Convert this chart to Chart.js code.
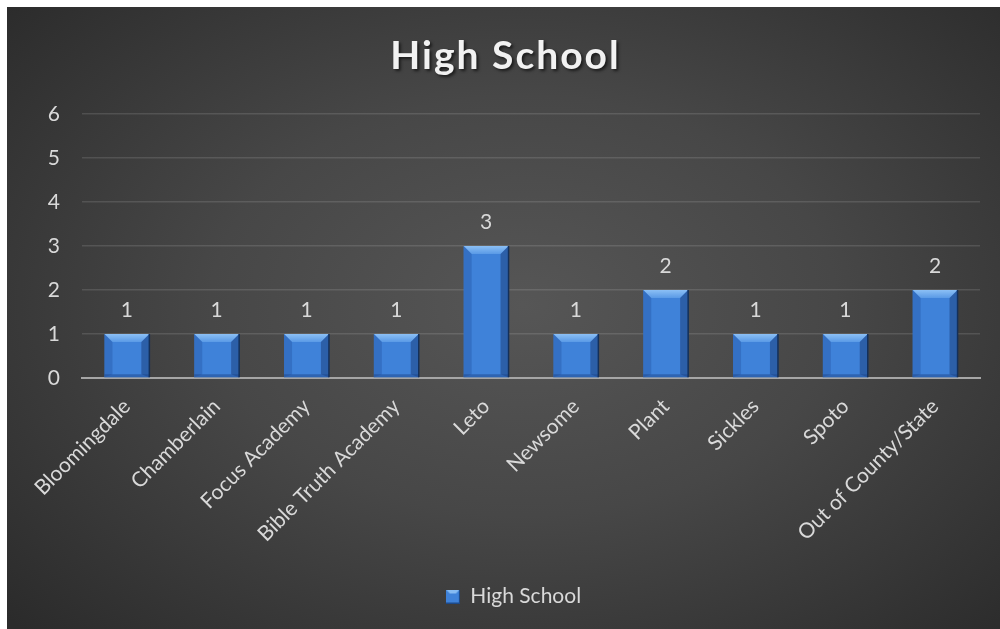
<!DOCTYPE html>
<html lang="en">
<head>
    <meta charset="UTF-8">
    <title>High School</title>
    <style>
        html, body {
            margin: 0;
            padding: 0;
            background: #ffffff;
            width: 1000px;
            height: 629px;
            overflow: hidden;
        }
        .chart-box {
            position: absolute;
            left: 7px;
            top: 7px;
            width: 993px;
            height: 622px;
            background: radial-gradient(ellipse 70% 75% at 52% 48%, #565656 0%, #474747 45%, #2b2b2b 100%);
        }
    </style>
    <script src="https://cdn.jsdelivr.net/npm/chart.js"></script>
</head>
<body>
    <div class="chart-box">
        <canvas id="okulChart" width="993" height="622"></canvas>
    </div>

    <script>
        var okullar = ['Bloomingdale', 'Chamberlain', 'Focus Academy', 'Bible Truth Academy', 'Leto',
                       'Newsome', 'Plant', 'Sickles', 'Spoto', 'Out of County/State'];
        var ogrenciSayisi = [1, 1, 1, 1, 3, 1, 2, 1, 1, 2];
        var yEksenMax = 6;
        var baslik = 'High School';

        var yaziFont = 'Lato, "Open Sans", sans-serif';
        var yaziRenk = '#d9d9d9';

        // legend kutusu (kabartmali kucuk kare)
        var legendKutu = document.createElement('canvas');
        legendKutu.width = 14;
        legendKutu.height = 14;
        (function() {
            var k = legendKutu.getContext('2d');
            k.fillStyle = '#3f82d9';
            k.fillRect(0, 0, 14, 14);
            k.fillStyle = '#86bbf3';
            k.beginPath();
            k.moveTo(0, 0); k.lineTo(14, 0); k.lineTo(10, 4); k.lineTo(4, 4);
            k.closePath();
            k.fill();
            k.fillStyle = '#1d4a8a';
            k.fillRect(13, 0, 1, 14);
            k.fillRect(0, 13, 14, 1);
        })();

        // bar ustune deger yazisi
        var degerYazisi = {
            id: 'degerYazisi',
            afterDatasetsDraw: function(chart) {
                var c = chart.ctx;
                var meta = chart.getDatasetMeta(0);
                c.save();
                c.font = '21px ' + yaziFont;
                c.fillStyle = yaziRenk;
                c.textAlign = 'center';
                c.textBaseline = 'middle';
                meta.data.forEach(function(bar, i) {
                    c.fillText(chart.data.datasets[0].data[i], bar.x, bar.y - 24);
                });
                c.restore();
            }
        };

        // baslik: harf araligi ve golge ile
        var baslikCiz = {
            id: 'baslikCiz',
            afterDraw: function(chart) {
                var blok = chart.titleBlock;
                var c = chart.ctx;
                var pad = blok.options.padding;
                c.save();
                c.font = 'bold 39px ' + yaziFont;
                c.letterSpacing = '2px';
                c.fillStyle = '#f2f2f2';
                c.textAlign = 'center';
                c.textBaseline = 'middle';
                c.shadowColor = 'rgba(0,0,0,0.6)';
                c.shadowOffsetX = 2;
                c.shadowOffsetY = 2;
                c.shadowBlur = 3;
                var ortaY = blok.top + pad.top + (blok.height - pad.top - pad.bottom) / 2;
                c.fillText(baslik, blok.left + blok.width / 2 + 12, ortaY + 2);
                c.restore();
            }
        };

        // legend biraz saga
        var legendKaydir = {
            id: 'legendKaydir',
            afterLayout: function(chart) {
                chart.legend.left += 20;
                chart.legend.right += 20;
            }
        };

        // bevel efekti
        var kabartma = {
            id: 'kabartma',
            afterDatasetsDraw: function(chart) {
                var c = chart.ctx;
                var meta = chart.getDatasetMeta(0);
                c.save();
                meta.data.forEach(function(bar) {
                    var p = bar.getProps(['x', 'y', 'base', 'width'], true);
                    var sol = p.x - p.width / 2;
                    var sag = p.x + p.width / 2;
                    var ust = p.y;
                    var alt = p.base;
                    var b = 8;
                    // ust
                    var g = c.createLinearGradient(0, ust, 0, ust + b);
                    g.addColorStop(0, '#8cc0f5');
                    g.addColorStop(1, '#5a9ae6');
                    c.fillStyle = g;
                    c.beginPath();
                    c.moveTo(sol, ust);
                    c.lineTo(sag, ust);
                    c.lineTo(sag - b, ust + b);
                    c.lineTo(sol + b, ust + b);
                    c.closePath();
                    c.fill();
                    // sol
                    c.fillStyle = 'rgba(40, 90, 170, 0.45)';
                    c.beginPath();
                    c.moveTo(sol, ust);
                    c.lineTo(sol + b, ust + b);
                    c.lineTo(sol + b, alt - 3);
                    c.lineTo(sol, alt);
                    c.closePath();
                    c.fill();
                    // sag
                    c.fillStyle = 'rgba(25, 60, 120, 0.5)';
                    c.beginPath();
                    c.moveTo(sag, ust);
                    c.lineTo(sag - b, ust + b);
                    c.lineTo(sag - b, alt - 3);
                    c.lineTo(sag, alt);
                    c.closePath();
                    c.fill();
                    // alt
                    c.fillStyle = 'rgba(30, 70, 140, 0.5)';
                    c.fillRect(sol, alt - 3, p.width, 3);
                    // koyu kenar
                    c.strokeStyle = '#14305a';
                    c.lineWidth = 1.5;
                    c.beginPath();
                    c.moveTo(sag, ust);
                    c.lineTo(sag, alt);
                    c.stroke();
                });
                c.restore();
            }
        };

        var ctx = document.getElementById('okulChart').getContext('2d');
        var okulChart = new Chart(ctx, {
            type: 'bar',
            data: {
                labels: okullar,
                datasets: [{
                    label: baslik,
                    data: ogrenciSayisi,
                    backgroundColor: '#3f82d9',
                    borderWidth: 0,
                    categoryPercentage: 0.5,
                    barPercentage: 1.0
                }]
            },
            options: {
                responsive: false,
                animation: false,
                layout: {
                    padding: { left: 0, right: 20, top: 0, bottom: 12 }
                },
                plugins: {
                    title: {
                        display: true,
                        text: baslik,
                        color: 'rgba(0,0,0,0)',
                        font: { family: yaziFont, size: 39, weight: 'bold' },
                        padding: { top: 24, bottom: 36 }
                    },
                    legend: {
                        position: 'bottom',
                        labels: {
                            color: yaziRenk,
                            font: { family: yaziFont, size: 21 },
                            usePointStyle: true,
                            pointStyle: legendKutu,
                            boxWidth: 14,
                            boxHeight: 14,
                            padding: 4
                        }
                    },
                    tooltip: { enabled: false }
                },
                scales: {
                    x: {
                        grid: { display: false },
                        border: { display: true, color: '#a6a6a6', width: 2 },
                        ticks: {
                            color: yaziRenk,
                            font: { family: yaziFont, size: 21 },
                            minRotation: 45,
                            maxRotation: 45,
                            padding: 8
                        },
                        afterFit: function(scale) { scale.height = 204; }
                    },
                    y: {
                        min: 0,
                        max: yEksenMax,
                        grid: { color: 'rgba(255,255,255,0.12)', lineWidth: 1.5, drawTicks: false },
                        border: { display: false },
                        ticks: {
                            stepSize: 1,
                            color: yaziRenk,
                            font: { family: yaziFont, size: 21 },
                            padding: 22
                        },
                        afterFit: function(scale) { scale.width = 75; }
                    }
                }
            },
            plugins: [kabartma, degerYazisi, baslikCiz, legendKaydir]
        });
    </script>
</body>
</html>
